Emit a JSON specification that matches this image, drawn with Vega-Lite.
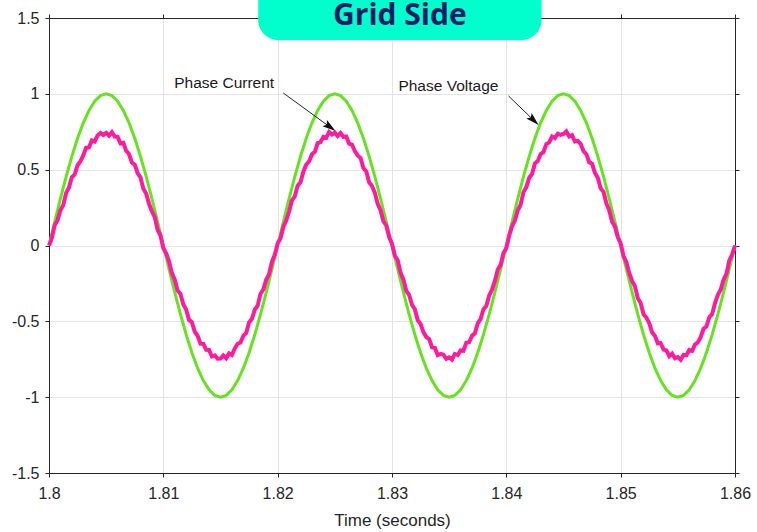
{
  "$schema": "https://vega.github.io/schema/vega-lite/v6.json",
  "width": 686,
  "height": 455,
  "autosize": {"type": "none"},
  "padding": {"left": 49, "top": 18, "right": 22, "bottom": 59},
  "background": "white",
  "config": {
    "view": {"stroke": null},
    "axis": {
      "domainColor": "#262626",
      "tickColor": "#262626",
      "gridColor": "#e3e3e3",
      "labelColor": "#262626",
      "titleColor": "#262626",
      "labelFont": "Liberation Sans",
      "titleFont": "Liberation Sans",
      "labelFontSize": 16,
      "titleFontSize": 17,
      "titleFontWeight": "normal",
      "tickSize": 4
    }
  },
  "datasets": {
    "voltage": [
      {"t":1.8,"v":0},{"t":1.8005,"v":0.156},{"t":1.801,"v":0.309},{"t":1.8015,"v":0.454},{"t":1.802,"v":0.588},{"t":1.8025,"v":0.707},{"t":1.803,"v":0.809},{"t":1.8035,"v":0.891},{"t":1.804,"v":0.951},{"t":1.8045,"v":0.988},
      {"t":1.805,"v":1},{"t":1.8055,"v":0.988},{"t":1.806,"v":0.951},{"t":1.8065,"v":0.891},{"t":1.807,"v":0.809},{"t":1.8075,"v":0.707},{"t":1.808,"v":0.588},{"t":1.8085,"v":0.454},{"t":1.809,"v":0.309},{"t":1.8095,"v":0.156},
      {"t":1.81,"v":0},{"t":1.8105,"v":-0.156},{"t":1.811,"v":-0.309},{"t":1.8115,"v":-0.454},{"t":1.812,"v":-0.588},{"t":1.8125,"v":-0.707},{"t":1.813,"v":-0.809},{"t":1.8135,"v":-0.891},{"t":1.814,"v":-0.951},{"t":1.8145,"v":-0.988},
      {"t":1.815,"v":-1},{"t":1.8155,"v":-0.988},{"t":1.816,"v":-0.951},{"t":1.8165,"v":-0.891},{"t":1.817,"v":-0.809},{"t":1.8175,"v":-0.707},{"t":1.818,"v":-0.588},{"t":1.8185,"v":-0.454},{"t":1.819,"v":-0.309},{"t":1.8195,"v":-0.156},
      {"t":1.82,"v":0},{"t":1.8205,"v":0.156},{"t":1.821,"v":0.309},{"t":1.8215,"v":0.454},{"t":1.822,"v":0.588},{"t":1.8225,"v":0.707},{"t":1.823,"v":0.809},{"t":1.8235,"v":0.891},{"t":1.824,"v":0.951},{"t":1.8245,"v":0.988},
      {"t":1.825,"v":1},{"t":1.8255,"v":0.988},{"t":1.826,"v":0.951},{"t":1.8265,"v":0.891},{"t":1.827,"v":0.809},{"t":1.8275,"v":0.707},{"t":1.828,"v":0.588},{"t":1.8285,"v":0.454},{"t":1.829,"v":0.309},{"t":1.8295,"v":0.156},
      {"t":1.83,"v":0},{"t":1.8305,"v":-0.156},{"t":1.831,"v":-0.309},{"t":1.8315,"v":-0.454},{"t":1.832,"v":-0.588},{"t":1.8325,"v":-0.707},{"t":1.833,"v":-0.809},{"t":1.8335,"v":-0.891},{"t":1.834,"v":-0.951},{"t":1.8345,"v":-0.988},
      {"t":1.835,"v":-1},{"t":1.8355,"v":-0.988},{"t":1.836,"v":-0.951},{"t":1.8365,"v":-0.891},{"t":1.837,"v":-0.809},{"t":1.8375,"v":-0.707},{"t":1.838,"v":-0.588},{"t":1.8385,"v":-0.454},{"t":1.839,"v":-0.309},{"t":1.8395,"v":-0.156},
      {"t":1.84,"v":0},{"t":1.8405,"v":0.156},{"t":1.841,"v":0.309},{"t":1.8415,"v":0.454},{"t":1.842,"v":0.588},{"t":1.8425,"v":0.707},{"t":1.843,"v":0.809},{"t":1.8435,"v":0.891},{"t":1.844,"v":0.951},{"t":1.8445,"v":0.988},
      {"t":1.845,"v":1},{"t":1.8455,"v":0.988},{"t":1.846,"v":0.951},{"t":1.8465,"v":0.891},{"t":1.847,"v":0.809},{"t":1.8475,"v":0.707},{"t":1.848,"v":0.588},{"t":1.8485,"v":0.454},{"t":1.849,"v":0.309},{"t":1.8495,"v":0.156},
      {"t":1.85,"v":0},{"t":1.8505,"v":-0.156},{"t":1.851,"v":-0.309},{"t":1.8515,"v":-0.454},{"t":1.852,"v":-0.588},{"t":1.8525,"v":-0.707},{"t":1.853,"v":-0.809},{"t":1.8535,"v":-0.891},{"t":1.854,"v":-0.951},{"t":1.8545,"v":-0.988},
      {"t":1.855,"v":-1},{"t":1.8555,"v":-0.988},{"t":1.856,"v":-0.951},{"t":1.8565,"v":-0.891},{"t":1.857,"v":-0.809},{"t":1.8575,"v":-0.707},{"t":1.858,"v":-0.588},{"t":1.8585,"v":-0.454},{"t":1.859,"v":-0.309},{"t":1.8595,"v":-0.156},
      {"t":1.86,"v":0}
    ],
    "current": [
      {"t":1.8,"i":0},{"t":1.80025,"i":0.048},{"t":1.8005,"i":0.134},{"t":1.80075,"i":0.167},{"t":1.801,"i":0.233},{"t":1.80125,"i":0.267},{"t":1.8015,"i":0.346},{"t":1.80175,"i":0.383},{"t":1.802,"i":0.45},{"t":1.80225,"i":0.469},
      {"t":1.8025,"i":0.529},{"t":1.80275,"i":0.555},{"t":1.803,"i":0.594},{"t":1.80325,"i":0.645},{"t":1.8035,"i":0.647},{"t":1.80375,"i":0.692},{"t":1.804,"i":0.686},{"t":1.80425,"i":0.726},{"t":1.8045,"i":0.742},{"t":1.80475,"i":0.729},
      {"t":1.805,"i":0.743},{"t":1.80525,"i":0.724},{"t":1.8055,"i":0.747},{"t":1.80575,"i":0.718},{"t":1.806,"i":0.716},{"t":1.80625,"i":0.674},{"t":1.8065,"i":0.677},{"t":1.80675,"i":0.625},{"t":1.807,"i":0.603},{"t":1.80725,"i":0.547},
      {"t":1.8075,"i":0.533},{"t":1.80775,"i":0.477},{"t":1.808,"i":0.45},{"t":1.80825,"i":0.375},{"t":1.8085,"i":0.342},{"t":1.80875,"i":0.275},{"t":1.809,"i":0.224},{"t":1.80925,"i":0.187},{"t":1.8095,"i":0.104},{"t":1.80975,"i":0.066},
      {"t":1.81,"i":-0.018},{"t":1.81025,"i":-0.052},{"t":1.8105,"i":-0.105},{"t":1.81075,"i":-0.182},{"t":1.811,"i":-0.226},{"t":1.81125,"i":-0.297},{"t":1.8115,"i":-0.32},{"t":1.81175,"i":-0.389},{"t":1.812,"i":-0.423},{"t":1.81225,"i":-0.491},
      {"t":1.8125,"i":-0.505},{"t":1.81275,"i":-0.569},{"t":1.813,"i":-0.595},{"t":1.81325,"i":-0.647},{"t":1.8135,"i":-0.649},{"t":1.81375,"i":-0.688},{"t":1.814,"i":-0.689},{"t":1.81425,"i":-0.732},{"t":1.8145,"i":-0.725},{"t":1.81475,"i":-0.746},
      {"t":1.815,"i":-0.745},{"t":1.81525,"i":-0.724},{"t":1.8155,"i":-0.743},{"t":1.81575,"i":-0.712},{"t":1.816,"i":-0.722},{"t":1.81625,"i":-0.678},{"t":1.8165,"i":-0.648},{"t":1.81675,"i":-0.64},{"t":1.817,"i":-0.596},{"t":1.81725,"i":-0.577},
      {"t":1.8175,"i":-0.507},{"t":1.81775,"i":-0.483},{"t":1.818,"i":-0.423},{"t":1.81825,"i":-0.397},{"t":1.8185,"i":-0.318},{"t":1.81875,"i":-0.289},{"t":1.819,"i":-0.225},{"t":1.81925,"i":-0.189},{"t":1.8195,"i":-0.106},{"t":1.81975,"i":-0.062},
      {"t":1.82,"i":0.015},{"t":1.82025,"i":0.046},{"t":1.8205,"i":0.122},{"t":1.82075,"i":0.165},{"t":1.821,"i":0.224},{"t":1.82125,"i":0.297},{"t":1.8215,"i":0.324},{"t":1.82175,"i":0.395},{"t":1.822,"i":0.417},{"t":1.82225,"i":0.487},
      {"t":1.8225,"i":0.534},{"t":1.82275,"i":0.554},{"t":1.823,"i":0.602},{"t":1.82325,"i":0.617},{"t":1.8235,"i":0.675},{"t":1.82375,"i":0.682},{"t":1.824,"i":0.716},{"t":1.82425,"i":0.71},{"t":1.8245,"i":0.749},{"t":1.82475,"i":0.732},
      {"t":1.825,"i":0.744},{"t":1.82525,"i":0.722},{"t":1.8255,"i":0.741},{"t":1.82575,"i":0.716},{"t":1.826,"i":0.719},{"t":1.82625,"i":0.672},{"t":1.8265,"i":0.665},{"t":1.82675,"i":0.623},{"t":1.827,"i":0.594},{"t":1.82725,"i":0.577},
      {"t":1.8275,"i":0.511},{"t":1.82775,"i":0.489},{"t":1.828,"i":0.417},{"t":1.82825,"i":0.393},{"t":1.8285,"i":0.347},{"t":1.82875,"i":0.274},{"t":1.829,"i":0.232},{"t":1.82925,"i":0.159},{"t":1.8295,"i":0.132},{"t":1.82975,"i":0.056},
      {"t":1.83,"i":0.012},{"t":1.83025,"i":-0.068},{"t":1.8305,"i":-0.098},{"t":1.83075,"i":-0.179},{"t":1.831,"i":-0.225},{"t":1.83125,"i":-0.299},{"t":1.8315,"i":-0.326},{"t":1.83175,"i":-0.391},{"t":1.832,"i":-0.42},{"t":1.83225,"i":-0.493},
      {"t":1.8325,"i":-0.517},{"t":1.83275,"i":-0.571},{"t":1.833,"i":-0.604},{"t":1.83325,"i":-0.617},{"t":1.8335,"i":-0.671},{"t":1.83375,"i":-0.676},{"t":1.834,"i":-0.722},{"t":1.83425,"i":-0.714},{"t":1.8345,"i":-0.72},{"t":1.83475,"i":-0.747},
      {"t":1.835,"i":-0.737},{"t":1.83525,"i":-0.752},{"t":1.8355,"i":-0.715},{"t":1.83575,"i":-0.722},{"t":1.836,"i":-0.692},{"t":1.83625,"i":-0.694},{"t":1.8365,"i":-0.641},{"t":1.83675,"i":-0.637},{"t":1.837,"i":-0.595},{"t":1.83725,"i":-0.579},
      {"t":1.8375,"i":-0.513},{"t":1.83775,"i":-0.485},{"t":1.838,"i":-0.42},{"t":1.83825,"i":-0.399},{"t":1.8385,"i":-0.33},{"t":1.83875,"i":-0.291},{"t":1.839,"i":-0.234},{"t":1.83925,"i":-0.159},{"t":1.8395,"i":-0.128},{"t":1.83975,"i":-0.05},
      {"t":1.84,"i":-0.018},{"t":1.84025,"i":0.064},{"t":1.8405,"i":0.127},{"t":1.84075,"i":0.164},{"t":1.841,"i":0.232},{"t":1.84125,"i":0.269},{"t":1.8415,"i":0.352},{"t":1.84175,"i":0.385},{"t":1.842,"i":0.447},{"t":1.84225,"i":0.471},
      {"t":1.8425,"i":0.541},{"t":1.84275,"i":0.557},{"t":1.843,"i":0.603},{"t":1.84325,"i":0.615},{"t":1.8435,"i":0.669},{"t":1.84375,"i":0.68},{"t":1.844,"i":0.719},{"t":1.84425,"i":0.708},{"t":1.8445,"i":0.737},{"t":1.84475,"i":0.73},
      {"t":1.845,"i":0.735},{"t":1.84525,"i":0.752},{"t":1.8455,"i":0.719},{"t":1.84575,"i":0.728},{"t":1.846,"i":0.686},{"t":1.84625,"i":0.69},{"t":1.8465,"i":0.67},{"t":1.84675,"i":0.622},{"t":1.847,"i":0.602},{"t":1.84725,"i":0.549},
      {"t":1.8475,"i":0.539},{"t":1.84775,"i":0.479},{"t":1.848,"i":0.447},{"t":1.84825,"i":0.377},{"t":1.8485,"i":0.354},{"t":1.84875,"i":0.277},{"t":1.849,"i":0.233},{"t":1.84925,"i":0.157},{"t":1.8495,"i":0.126},{"t":1.84975,"i":0.054},
      {"t":1.85,"i":0.015},{"t":1.85025,"i":-0.07},{"t":1.8505,"i":-0.11},{"t":1.85075,"i":-0.181},{"t":1.851,"i":-0.234},{"t":1.85125,"i":-0.269},{"t":1.8515,"i":-0.348},{"t":1.85175,"i":-0.379},{"t":1.852,"i":-0.453},{"t":1.85225,"i":-0.475},
      {"t":1.8525,"i":-0.512},{"t":1.85275,"i":-0.572},{"t":1.853,"i":-0.596},{"t":1.85325,"i":-0.645},{"t":1.8535,"i":-0.643},{"t":1.85375,"i":-0.686},{"t":1.854,"i":-0.692},{"t":1.85425,"i":-0.73},{"t":1.8545,"i":-0.713},{"t":1.85475,"i":-0.744},
      {"t":1.855,"i":-0.736},{"t":1.85525,"i":-0.754},{"t":1.8555,"i":-0.721},{"t":1.85575,"i":-0.724},{"t":1.856,"i":-0.689},{"t":1.85625,"i":-0.696},{"t":1.8565,"i":-0.653},{"t":1.85675,"i":-0.639},{"t":1.857,"i":-0.604},{"t":1.85725,"i":-0.549},
      {"t":1.8575,"i":-0.535},{"t":1.85775,"i":-0.473},{"t":1.858,"i":-0.453},{"t":1.85825,"i":-0.381},{"t":1.8585,"i":-0.325},{"t":1.85875,"i":-0.292},{"t":1.859,"i":-0.226},{"t":1.85925,"i":-0.187},{"t":1.8595,"i":-0.1},{"t":1.85975,"i":-0.06},
      {"t":1.86,"i":0}
    ],
    "labels": [
      {"x":1.81095,"y":1.0714,"label":"Phase Current"},
      {"x":1.83056,"y":1.0517,"label":"Phase Voltage"}
    ],
    "arrows": [
      {"x":1.82049,"y":1.0055,"x2":1.82445,"y2":0.788,"angle":126},
      {"x":1.84019,"y":0.986,"x2":1.84228,"y2":0.834,"angle":134}
    ],
    "titlebox": [
      {"x":1.8183,"x2":1.84308,"y":1.355,"y2":1.75,"tx":1.83069,"ty":1.512,"label":"Grid Side"}
    ]
  },
  "resolve": {"axis": {"x": "independent", "y": "independent"}},
  "layer": [
    {
      "data": {"name": "voltage"},
      "mark": {"type": "line", "color": "#66E21E", "strokeWidth": 3},
      "encoding": {
        "x": {"field": "t", "type": "quantitative", "scale": {"domain": [1.8, 1.86], "nice": false, "zero": false},
          "axis": {"orient": "bottom", "values": [1.8,1.81,1.82,1.83,1.84,1.85,1.86], "labelExpr": "toString(datum.value)", "title": "Time (seconds)", "grid": true, "labelPadding": 8, "titlePadding": 11, "labelFlush": false}},
        "y": {"field": "v", "type": "quantitative", "scale": {"domain": [-1.5, 1.5], "nice": false, "zero": false},
          "axis": {"orient": "left", "values": [-1.5,-1,-0.5,0,0.5,1,1.5], "labelExpr": "toString(datum.value)", "title": null, "grid": true, "labelPadding": 6}}
      }
    },
    {
      "data": {"name": "current"},
      "mark": {"type": "line", "color": "#FF1A9E", "strokeWidth": 4},
      "encoding": {
        "x": {"field": "t", "type": "quantitative", "axis": {"orient": "top", "values": [1.8,1.81,1.82,1.83,1.84,1.85,1.86], "labels": false, "title": null, "grid": false}},
        "y": {"field": "i", "type": "quantitative", "axis": {"orient": "right", "values": [-1.5,-1,-0.5,0,0.5,1,1.5], "labels": false, "title": null, "grid": false}}
      }
    },
    {
      "data": {"name": "arrows"},
      "mark": {"type": "rule", "color": "#262626", "strokeWidth": 1},
      "encoding": {
        "x": {"field": "x", "type": "quantitative", "axis": null},
        "y": {"field": "y", "type": "quantitative", "axis": null},
        "x2": {"field": "x2"},
        "y2": {"field": "y2"}
      }
    },
    {
      "data": {"name": "arrows"},
      "mark": {"type": "point", "filled": true, "color": "#111111", "opacity": 1, "size": 300, "shape": "M0,-1L0.45,0.55L0,0.25L-0.45,0.55Z"},
      "encoding": {
        "x": {"field": "x2", "type": "quantitative", "axis": null},
        "y": {"field": "y2", "type": "quantitative", "axis": null},
        "angle": {"field": "angle", "type": "quantitative", "scale": null}
      }
    },
    {
      "data": {"name": "labels"},
      "mark": {"type": "text", "align": "left", "baseline": "middle", "font": "Liberation Sans", "fontSize": 15.5, "color": "#1a1a1a"},
      "encoding": {
        "x": {"field": "x", "type": "quantitative", "axis": null},
        "y": {"field": "y", "type": "quantitative", "axis": null},
        "text": {"field": "label"}
      }
    },
    {
      "data": {"name": "titlebox"},
      "mark": {"type": "rect", "color": "#00FFCC", "cornerRadius": 20, "clip": false},
      "encoding": {
        "x": {"field": "x", "type": "quantitative", "axis": null},
        "x2": {"field": "x2"},
        "y": {"field": "y", "type": "quantitative", "axis": null},
        "y2": {"field": "y2"}
      }
    },
    {
      "data": {"name": "titlebox"},
      "mark": {"type": "text", "align": "center", "baseline": "middle", "font": "Open Sans", "fontWeight": "bold", "fontSize": 30, "color": "#0E1C68"},
      "encoding": {
        "x": {"field": "tx", "type": "quantitative", "axis": null},
        "y": {"field": "ty", "type": "quantitative", "axis": null},
        "text": {"field": "label"}
      }
    }
  ]
}
